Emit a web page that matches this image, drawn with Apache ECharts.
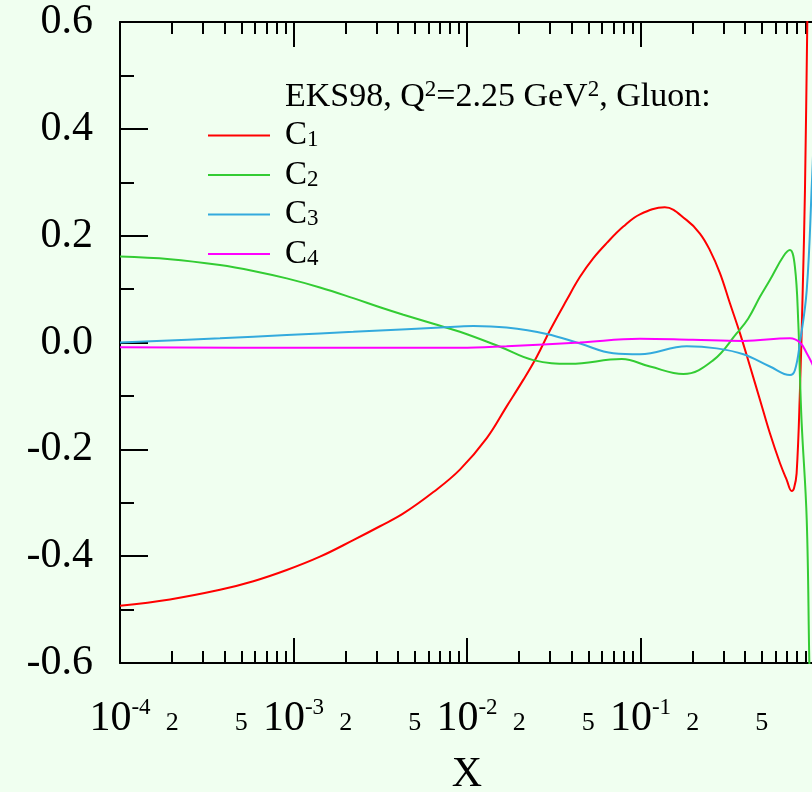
<!DOCTYPE html>
<html>
<head>
<meta charset="utf-8">
<script src="https://cdn.jsdelivr.net/npm/echarts@6/dist/echarts.min.js"></script>
<style>
  html, body { margin: 0; padding: 0; background: #f0fff0; }
  #chart { width: 812px; height: 792px; }
</style>
</head>
<body>
<div id="chart"></div>
<script>
// EKS98 gluon coefficients C1..C4 versus x at Q^2 = 2.25 GeV^2
const xC1 = [0.0001, 0.000194, 0.000377, 0.000587, 0.000914, 0.00142, 0.00221, 0.00315, 0.0043, 0.0064, 0.0091, 0.013, 0.0169, 0.0211, 0.0252, 0.0301, 0.0376, 0.0448, 0.0535, 0.0638, 0.0796, 0.0993, 0.138, 0.1846, 0.22, 0.251, 0.287, 0.328, 0.3745, 0.428, 0.489, 0.557, 0.637, 0.696, 0.744, 0.767, 0.794, 0.83, 0.861, 0.887, 0.915, 0.94];
const yC1 = [-0.493, -0.481, -0.463, -0.447, -0.426, -0.401, -0.370, -0.344, -0.320, -0.280, -0.238, -0.179, -0.120, -0.070, -0.027, 0.023, 0.080, 0.123, 0.158, 0.186, 0.217, 0.240, 0.253, 0.229, 0.204, 0.173, 0.130, 0.073, 0.017, -0.045, -0.108, -0.170, -0.226, -0.257, -0.278, -0.273, -0.245, -0.089, 0.098, 0.285, 0.600, 0.850];

const xC2 = [0.0001, 0.000194, 0.000377, 0.000587, 0.000914, 0.00142, 0.00221, 0.00315, 0.0043, 0.0064, 0.0091, 0.0155, 0.0241, 0.0393, 0.078, 0.1135, 0.1766, 0.263, 0.358, 0.418, 0.489, 0.557, 0.665, 0.727, 0.776, 0.812, 0.83, 0.849, 0.908, 0.94, 0.97];
const yC2 = [0.161, 0.156, 0.145, 0.134, 0.120, 0.103, 0.083, 0.066, 0.052, 0.035, 0.020, -0.008, -0.033, -0.040, -0.031, -0.045, -0.059, -0.033, 0.017, 0.045, 0.086, 0.117, 0.161, 0.173, 0.142, 0.036, -0.064, -0.151, -0.332, -0.600, -0.800];

const xC3 = [0.0001, 0.000377, 0.000914, 0.00221, 0.0091, 0.0109, 0.0169, 0.0288, 0.0448, 0.0697, 0.0993, 0.1846, 0.275, 0.392, 0.557, 0.727, 0.776, 0.83, 0.908, 0.974, 1.0];
const yC3 = [0.000, 0.008, 0.014, 0.020, 0.030, 0.031, 0.028, 0.016, -0.002, -0.020, -0.022, -0.007, -0.011, -0.022, -0.045, -0.061, -0.052, 0.000, 0.098, 0.304, 0.400];

const xC4 = [0.0001, 0.001, 0.0091, 0.0169, 0.0448, 0.0993, 0.2, 0.392, 0.727, 0.83, 0.908, 0.974, 1.0];
const yC4 = [-0.009, -0.010, -0.010, -0.007, 0.000, 0.007, 0.005, 0.003, 0.008, 0.000, -0.020, -0.039, -0.048];

const seriesNames = ['C1', 'C2', 'C3', 'C4'];
const seriesColors = ['#ff0000', '#33cc33', '#33aadd', '#ff00ff'];

// log-axis ticks: decades (major) and 2..9 multiples (minor)
const majorTicks = [0.0001, 0.001, 0.01, 0.1, 1];
const majorLabels = [0.0001, 0.001, 0.01, 0.1];
const minorTicks = [
  0.0002, 0.0003, 0.0004, 0.0005, 0.0006, 0.0007, 0.0008, 0.0009,
  0.002, 0.003, 0.004, 0.005, 0.006, 0.007, 0.008, 0.009,
  0.02, 0.03, 0.04, 0.05, 0.06, 0.07, 0.08, 0.09,
  0.2, 0.3, 0.4, 0.5, 0.6, 0.7, 0.8, 0.9
];
const minorLabels = [0.0002, 0.0005, 0.002, 0.005, 0.02, 0.05, 0.2, 0.5];

const titleText = 'EKS98, Q{sup|2}=2.25 GeV{sup|2}, Gluon:';

const serif = "'Liberation Serif', 'Times New Roman', serif";
const black = '#000000';

function pairs(xs, ys) { return xs.map((x, i) => [x, ys[i]]); }
const seriesData = [pairs(xC1, yC1), pairs(xC2, yC2), pairs(xC3, yC3), pairs(xC4, yC4)];

// one log x-axis layer: axis line plus one set of inward ticks
function logAxis(position, ticks, tickLen, showLine) {
  return {
    type: 'log', logBase: 10, min: 0.0001, max: 1, position: position, gridIndex: 0,
    axisLine: { show: showLine, onZero: false, lineStyle: { color: black, width: 2 } },
    axisTick: { show: true, inside: true, length: tickLen, customValues: ticks,
                lineStyle: { color: black, width: 2 } },
    minorTick: { show: false }, splitLine: { show: false }, minorSplitLine: { show: false },
    axisLabel: { show: false }
  };
}

const xAxes = [
  Object.assign(logAxis('bottom', majorTicks, 25, true), {
    name: 'X', nameLocation: 'middle', nameGap: 91, nameMoveOverlap: false,
    nameTextStyle: { fontFamily: serif, fontSize: 42, color: black }
  }),
  logAxis('bottom', minorTicks, 12, false),
  logAxis('top', majorTicks, 25, true),
  logAxis('top', minorTicks, 12, false)
];

const chart = echarts.init(document.getElementById('chart'), null, { renderer: 'canvas' });
chart.setOption({
  animation: false,
  backgroundColor: '#f0fff0',
  grid: { left: 120, top: 22, width: 694, height: 641, outerBoundsMode: 'none', containLabel: false },
  title: {
    text: titleText, left: 285, top: 78, padding: 0,
    textStyle: {
      fontFamily: serif, fontSize: 34, fontWeight: 'normal', color: black, lineHeight: 38,
      rich: { sup: { fontFamily: serif, fontSize: 23, lineHeight: 11, verticalAlign: 'top', color: black } }
    }
  },
  legend: {
    orient: 'vertical', left: 208, top: 119, padding: 0,
    icon: 'rect', itemWidth: 62, itemHeight: 2, itemGap: 6.5,
    data: seriesNames,
    formatter: name => '{sp| }C{sub|' + name.slice(1) + '}',
    textStyle: {
      fontFamily: serif, fontSize: 33, color: black, lineHeight: 32,
      rich: {
        sp: { width: 10, fontSize: 33, lineHeight: 32 },
        sub: { fontFamily: serif, fontSize: 23, lineHeight: 16, verticalAlign: 'bottom', color: black }
      }
    }
  },
  xAxis: xAxes,
  yAxis: {
    type: 'value', min: -0.6, max: 0.6, interval: 0.2, position: 'left',
    axisLine: { show: true, onZero: false, lineStyle: { color: black, width: 2 } },
    axisTick: { show: true, inside: true, length: 28, lineStyle: { color: black, width: 2 } },
    minorTick: { show: true, splitNumber: 2, length: 14, lineStyle: { color: black, width: 2 } },
    splitLine: { show: false },
    axisLabel: {
      margin: 27, fontFamily: serif, fontSize: 42, color: black,
      formatter: v => (Math.abs(v) < 1e-9 ? '0.0' : v.toFixed(1))
    }
  },
  series: seriesNames.map((name, i) => ({
    name: name, type: 'line', xAxisIndex: 0, yAxisIndex: 0,
    data: seriesData[i], smooth: 0.4, symbol: 'none', clip: true,
    lineStyle: { color: seriesColors[i], width: 2 },
    itemStyle: { color: seriesColors[i] }
  }))
});

// x tick labels (10^n at decades, 2 and 5 between), placed at the axis' own pixel positions
const labelGraphics = [];
majorLabels.forEach(v => {
  labelGraphics.push({
    type: 'text', silent: true, z: 10,
    x: chart.convertToPixel({ xAxisIndex: 0 }, v), y: 718.5,
    style: {
      text: '{b|10}{s|' + Math.round(Math.log10(v)) + '}',
      align: 'center', verticalAlign: 'middle', fill: black,
      fontFamily: serif, fontSize: 42,
      rich: {
        b: { fontFamily: serif, fontSize: 42, lineHeight: 44, fill: black },
        s: { fontFamily: serif, fontSize: 23, lineHeight: 10, verticalAlign: 'top', fill: black }
      }
    }
  });
});
minorLabels.forEach(v => {
  const mant = Math.round(v / Math.pow(10, Math.floor(Math.log10(v) + 1e-9)));
  labelGraphics.push({
    type: 'text', silent: true, z: 10,
    x: chart.convertToPixel({ xAxisIndex: 0 }, v), y: 723.5,
    style: {
      text: String(mant), align: 'center', verticalAlign: 'middle',
      fontFamily: serif, fontSize: 26, fill: black
    }
  });
});
chart.setOption({ graphic: labelGraphics });
</script>
</body>
</html>
